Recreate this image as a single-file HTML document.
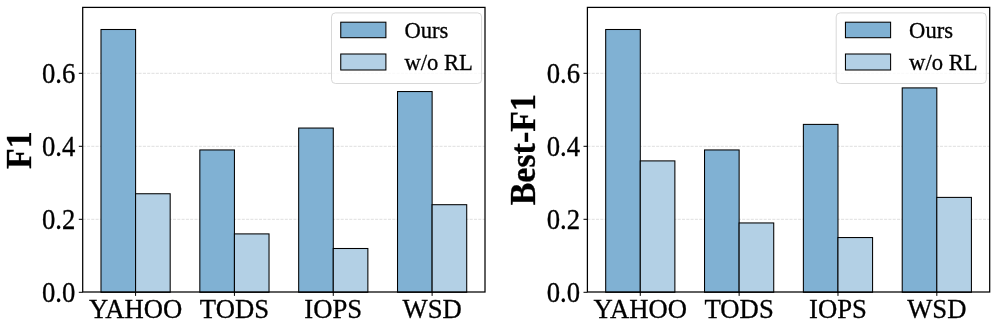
<!DOCTYPE html>
<html><head><meta charset="utf-8"><title>chart</title>
<style>html,body{margin:0;padding:0;background:#fff;}svg{display:block;will-change:transform;}text{font-family:"Liberation Serif",serif;fill:#000;stroke:#000;stroke-width:0.3px;}</style></head><body>
<svg width="997" height="331" viewBox="0 0 997 331">
<rect x="0" y="0" width="997" height="331" fill="#fff"/>
<g>
<line x1="82.7" x2="485" y1="219.3" y2="219.3" stroke="#b0b0b0" stroke-opacity="0.47" stroke-width="0.9" stroke-dasharray="3,1.3"/>
<line x1="82.7" x2="485" y1="146.3" y2="146.3" stroke="#b0b0b0" stroke-opacity="0.47" stroke-width="0.9" stroke-dasharray="3,1.3"/>
<line x1="82.7" x2="485" y1="73.3" y2="73.3" stroke="#b0b0b0" stroke-opacity="0.47" stroke-width="0.9" stroke-dasharray="3,1.3"/>
<rect x="100.99" y="29.5" width="34.6" height="262.8" fill="#80b1d3" stroke="#000" stroke-width="1.05"/>
<rect x="135.58" y="193.75" width="34.6" height="98.55" fill="#b3d0e5" stroke="#000" stroke-width="1.05"/>
<rect x="199.83" y="149.95" width="34.6" height="142.35" fill="#80b1d3" stroke="#000" stroke-width="1.05"/>
<rect x="234.43" y="233.9" width="34.6" height="58.4" fill="#b3d0e5" stroke="#000" stroke-width="1.05"/>
<rect x="298.68" y="128.05" width="34.6" height="164.25" fill="#80b1d3" stroke="#000" stroke-width="1.05"/>
<rect x="333.27" y="248.5" width="34.6" height="43.8" fill="#b3d0e5" stroke="#000" stroke-width="1.05"/>
<rect x="397.52" y="91.55" width="34.6" height="200.75" fill="#80b1d3" stroke="#000" stroke-width="1.05"/>
<rect x="432.12" y="204.7" width="34.6" height="87.6" fill="#b3d0e5" stroke="#000" stroke-width="1.05"/>
<line x1="78.8" x2="82.7" y1="292.3" y2="292.3" stroke="#000" stroke-width="1"/>
<text transform="translate(75.3,301.9) scale(1,1.07)" font-size="26.7" text-anchor="end">0.0</text>
<line x1="78.8" x2="82.7" y1="219.3" y2="219.3" stroke="#000" stroke-width="1"/>
<text transform="translate(75.3,228.9) scale(1,1.07)" font-size="26.7" text-anchor="end">0.2</text>
<line x1="78.8" x2="82.7" y1="146.3" y2="146.3" stroke="#000" stroke-width="1"/>
<text transform="translate(75.3,155.9) scale(1,1.07)" font-size="26.7" text-anchor="end">0.4</text>
<line x1="78.8" x2="82.7" y1="73.3" y2="73.3" stroke="#000" stroke-width="1"/>
<text transform="translate(75.3,82.9) scale(1,1.07)" font-size="26.7" text-anchor="end">0.6</text>
<line x1="135.58" x2="135.58" y1="292" y2="295.9" stroke="#000" stroke-width="1"/>
<text transform="translate(135.58,318) scale(1,1.035)" font-size="26.7" text-anchor="middle">YAHOO</text>
<line x1="234.43" x2="234.43" y1="292" y2="295.9" stroke="#000" stroke-width="1"/>
<text transform="translate(234.43,318) scale(1,1.035)" font-size="26.7" text-anchor="middle">TODS</text>
<line x1="333.27" x2="333.27" y1="292" y2="295.9" stroke="#000" stroke-width="1"/>
<text transform="translate(333.27,318) scale(1,1.035)" font-size="26.7" text-anchor="middle">IOPS</text>
<line x1="432.12" x2="432.12" y1="292" y2="295.9" stroke="#000" stroke-width="1"/>
<text transform="translate(432.12,318) scale(1,1.035)" font-size="26.7" text-anchor="middle">WSD</text>
<rect x="82.7" y="7.4" width="402.3" height="284.6" fill="none" stroke="#000" stroke-width="1.25"/>
<rect x="331.5" y="12.9" width="150.1" height="70.6" rx="4" ry="4" fill="#fff" fill-opacity="0.8" stroke="#ccc" stroke-opacity="0.8" stroke-width="0.95"/>
<rect x="340.75" y="22.2" width="45.15" height="15.5" fill="#80b1d3" stroke="#000" stroke-width="1.05"/>
<rect x="340.75" y="54.0" width="45.15" height="16.0" fill="#b3d0e5" stroke="#000" stroke-width="1.05"/>
<text transform="translate(404.4,37.7) scale(1,1.04)" font-size="22.6">Ours</text>
<text transform="translate(404.4,69.6) scale(1,1.04)" font-size="22.6">w/o RL</text>
<text transform="translate(31.2,150.2) rotate(-90) scale(1,1.085)" font-size="33.9" font-weight="bold" text-anchor="middle">F1</text>
</g>
<g>
<line x1="587.4" x2="989.7" y1="219.3" y2="219.3" stroke="#b0b0b0" stroke-opacity="0.47" stroke-width="0.9" stroke-dasharray="3,1.3"/>
<line x1="587.4" x2="989.7" y1="146.3" y2="146.3" stroke="#b0b0b0" stroke-opacity="0.47" stroke-width="0.9" stroke-dasharray="3,1.3"/>
<line x1="587.4" x2="989.7" y1="73.3" y2="73.3" stroke="#b0b0b0" stroke-opacity="0.47" stroke-width="0.9" stroke-dasharray="3,1.3"/>
<rect x="605.69" y="29.5" width="34.6" height="262.8" fill="#80b1d3" stroke="#000" stroke-width="1.05"/>
<rect x="640.28" y="160.9" width="34.6" height="131.4" fill="#b3d0e5" stroke="#000" stroke-width="1.05"/>
<rect x="704.53" y="149.95" width="34.6" height="142.35" fill="#80b1d3" stroke="#000" stroke-width="1.05"/>
<rect x="739.13" y="222.95" width="34.6" height="69.35" fill="#b3d0e5" stroke="#000" stroke-width="1.05"/>
<rect x="803.38" y="124.4" width="34.6" height="167.9" fill="#80b1d3" stroke="#000" stroke-width="1.05"/>
<rect x="837.97" y="237.55" width="34.6" height="54.75" fill="#b3d0e5" stroke="#000" stroke-width="1.05"/>
<rect x="902.22" y="87.9" width="34.6" height="204.4" fill="#80b1d3" stroke="#000" stroke-width="1.05"/>
<rect x="936.82" y="197.4" width="34.6" height="94.9" fill="#b3d0e5" stroke="#000" stroke-width="1.05"/>
<line x1="583.5" x2="587.4" y1="292.3" y2="292.3" stroke="#000" stroke-width="1"/>
<text transform="translate(580,301.9) scale(1,1.07)" font-size="26.7" text-anchor="end">0.0</text>
<line x1="583.5" x2="587.4" y1="219.3" y2="219.3" stroke="#000" stroke-width="1"/>
<text transform="translate(580,228.9) scale(1,1.07)" font-size="26.7" text-anchor="end">0.2</text>
<line x1="583.5" x2="587.4" y1="146.3" y2="146.3" stroke="#000" stroke-width="1"/>
<text transform="translate(580,155.9) scale(1,1.07)" font-size="26.7" text-anchor="end">0.4</text>
<line x1="583.5" x2="587.4" y1="73.3" y2="73.3" stroke="#000" stroke-width="1"/>
<text transform="translate(580,82.9) scale(1,1.07)" font-size="26.7" text-anchor="end">0.6</text>
<line x1="640.28" x2="640.28" y1="292" y2="295.9" stroke="#000" stroke-width="1"/>
<text transform="translate(640.28,318) scale(1,1.035)" font-size="26.7" text-anchor="middle">YAHOO</text>
<line x1="739.13" x2="739.13" y1="292" y2="295.9" stroke="#000" stroke-width="1"/>
<text transform="translate(739.13,318) scale(1,1.035)" font-size="26.7" text-anchor="middle">TODS</text>
<line x1="837.97" x2="837.97" y1="292" y2="295.9" stroke="#000" stroke-width="1"/>
<text transform="translate(837.97,318) scale(1,1.035)" font-size="26.7" text-anchor="middle">IOPS</text>
<line x1="936.82" x2="936.82" y1="292" y2="295.9" stroke="#000" stroke-width="1"/>
<text transform="translate(936.82,318) scale(1,1.035)" font-size="26.7" text-anchor="middle">WSD</text>
<rect x="587.4" y="7.4" width="402.3" height="284.6" fill="none" stroke="#000" stroke-width="1.25"/>
<rect x="836.2" y="12.9" width="150.1" height="70.6" rx="4" ry="4" fill="#fff" fill-opacity="0.8" stroke="#ccc" stroke-opacity="0.8" stroke-width="0.95"/>
<rect x="845.45" y="22.2" width="45.15" height="15.5" fill="#80b1d3" stroke="#000" stroke-width="1.05"/>
<rect x="845.45" y="54.0" width="45.15" height="16.0" fill="#b3d0e5" stroke="#000" stroke-width="1.05"/>
<text transform="translate(909.1,37.7) scale(1,1.04)" font-size="22.6">Ours</text>
<text transform="translate(909.1,69.6) scale(1,1.04)" font-size="22.6">w/o RL</text>
<text transform="translate(535.1,149.7) rotate(-90) scale(1,1.085)" font-size="33.9" font-weight="bold" text-anchor="middle">Best-F1</text>
</g>
</svg></body></html>
